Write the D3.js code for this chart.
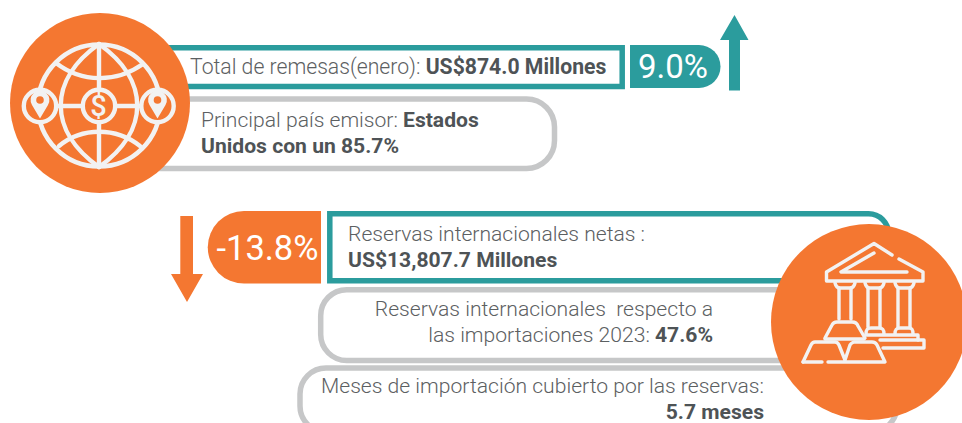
<!DOCTYPE html>
<html><head><meta charset="utf-8">
<script src="https://cdn.jsdelivr.net/npm/d3@7/dist/d3.min.js"></script>
<style>html,body{margin:0;padding:0;background:#fff;overflow:hidden}svg{display:block}text{font-family:Roboto,sans-serif}</style>
</head><body><svg id="c" width="962" height="423"></svg>
<script>
// values
const remesasEnero = 874.0;
const remesasVariacion = 9.0;
const paisEmisorShare = 85.7;
const reservasNetas = "13,807.7";
const reservasVariacion = -13.8;
const reservasImportaciones = 47.6;
const mesesImportacion = 5.7;

const ORANGE="#f47731", TEAL="#2b9c9d", GRAY="#c6c7c8", ICON="#f2f2f2", INK="#5c6062", BOLD="#4e5356";
const svg=d3.select("#c");
const FS=21.1;

function path(d,fill,stroke,sw){return svg.append("path").attr("d",d).attr("fill",fill||"none").attr("stroke",stroke||"none").attr("stroke-width",sw||0).attr("stroke-linecap","round").attr("stroke-linejoin","round");}
function line(x,y,anchor,size,parts){
  const t=svg.append("text").attr("x",x).attr("y",y).attr("text-anchor",anchor).attr("font-size",size);
  parts.forEach(p=>t.append("tspan").attr("font-weight",p[1]?700:300).attr("fill",p[1]?BOLD:INK).style("white-space","pre").text(p[0]));
  return t;
}
function rbox(x,y,w,h,r,col,sw){svg.append("rect").attr("x",x).attr("y",y).attr("width",w).attr("height",h).attr("rx",r).attr("fill","#fff").attr("stroke",col).attr("stroke-width",sw);}

// --- boxes (upper block)
rbox(120,99,434.5,69.5,28,GRAY,5.5);
svg.append("path").attr("d","M120,47.8H622.2V86.6H120Z").attr("fill","#fff").attr("stroke",TEAL).attr("stroke-width",5.5);
path("M630,45H699A21.5,21.5 0 0 1 699,88H630Z",TEAL);
path("M729,90.5V40H720L734.5,15L748.5,40H740V90.5Z",TEAL);

svg.append("circle").attr("cx",100).attr("cy",103).attr("r",90).attr("fill",ORANGE);

// globe icon
const g=(d,w)=>path(d,"none",ICON,w||4.4);
svg.append("circle").attr("cx",99).attr("cy",105.5).attr("r",61).attr("fill","none").attr("stroke",ICON).attr("stroke-width",4.6);
g("M99,44V88M99,124V167");
g("M99,44C48,80 48,131 99,167");
g("M99,44C150,80 150,131 99,167");
g("M56,63C82,83 116,83 143,64");
g("M59,146C82,127 116,127 140,146");
g("M58,106H82M116,106H141");
[[40,106],[99,106],[157.5,106]].forEach(c=>svg.append("circle").attr("cx",c[0]).attr("cy",c[1]).attr("r",16.2).attr("fill",ORANGE).attr("stroke",ICON).attr("stroke-width",4.4));
[40,157.5].forEach(x=>{
  path(`M${x},118.5L${x-8},105A9.4,9.4 0 1 1 ${x+8},105Z`,ICON);
  svg.append("circle").attr("cx",x).attr("cy",100).attr("r",3.8).attr("fill",ORANGE);
});
svg.append("text").attr("x",98.5).attr("y",116).attr("text-anchor","middle").attr("font-size",29).attr("font-weight",500).attr("fill",ICON).text("$");

line(190,74,"start",21.2,[["Total de remesas(enero): "],[`US$${remesasEnero.toFixed(1)} Millones`,1]]);
line(201,127,"start",FS,[["Principal país emisor: "],["Estados",1]]);
line(201,153,"start",FS,[[`Unidos con un ${paisEmisorShare}%`,1]]);
svg.append("text").attr("x",673).attr("y",78).attr("text-anchor","middle").attr("font-size",33).attr("font-weight",400).attr("fill","#fff").text(`${remesasVariacion.toFixed(1)}%`);

// --- boxes (lower block)
rbox(300,368,597,64,26,GRAY,5.5);
rbox(320.7,289.7,560,70.8,26,GRAY,5.5);
svg.append("path").attr("d","M329.8,280.8V213.8H868A20,20 0 0 1 888.5,234V280.8Z").attr("fill","#fff").attr("stroke",TEAL).attr("stroke-width",5.5);
path("M321,211V283.5H244A36.2,36.2 0 0 1 244,211Z",ORANGE);
path("M180.3,216H193V274H203L187,302L171,274H180.3Z",ORANGE);

svg.append("text").attr("x",267.5).attr("y",260).attr("text-anchor","middle").attr("font-size",34.5).attr("font-weight",400).attr("fill","#fff").text(`${reservasVariacion}%`);
line(348,241,"start",FS,[["Reservas internacionales netas :"]]);
line(348,267,"start",FS,[[`US$${reservasNetas} Millones`,1]]);
line(713,316,"end",FS,[["Reservas internacionales  respecto a"]]);
line(713,342,"end",FS,[["las importaciones 2023: "],[`${reservasImportaciones}%`,1]]);
line(764,393,"end",FS,[["Meses de importación cubierto por las reservas:"]]);
line(764,419,"end",FS,[[`${mesesImportacion} meses`,1]]);

svg.append("circle").attr("cx",869).attr("cy",322).attr("r",98).attr("fill",ORANGE);

// bank icon
const b=(d)=>path(d,"none",ICON,3.4);
b("M892,255L874,243.5L826.5,272V281H923V272L899,259");
b("M874,253L841,272H907");
b("M835,283C836,287 838,288 840,288H850C852,288 854,287 855,283");
b("M865,283C866,287 868,288 870,288H879C881,288 883,287 884,283");
b("M895,283C896,287 898,288 900,288H909C911,288 913,287 914,283");
b("M839,288V319M851,288V319");
b("M868,288V327M880,288V327");
b("M898,288V327M910,288V327");
b("M866,334C866,328 869,328 871,328H879C881,328 884,328 884,334");
b("M895,334C895,328 898,328 900,328H909C911,328 913,328 913,334");
b("M866,335H918V340H924V348H883");
b("M918,340H880");
b("M825,338L832,325C833,323 835,322 837,322H852C855,322 857,323 858,326L865,338");
b("M825,339H864");
b("M803,362L811,345C812,343 813,342 815,342H835C837,342 838,343 839,345L845,360L850,345C851,343 852,343 854,342H872C875,342 876,343 877,345L885,362H828");
b("M803,362H822");
</script></body></html>
